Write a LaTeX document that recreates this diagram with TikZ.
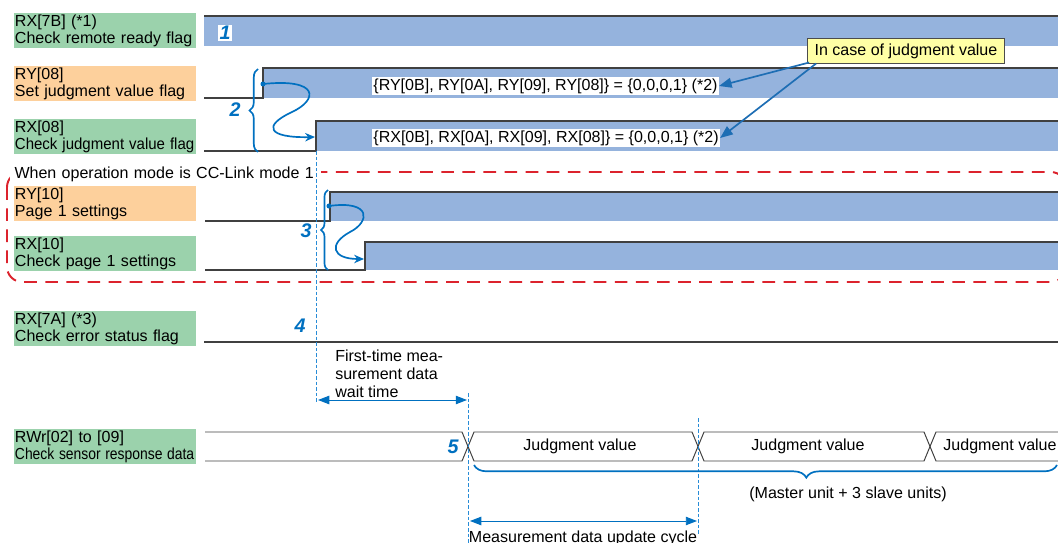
\documentclass[tikz,border=0pt]{standalone}
\usepackage{fontspec}
\setmainfont{Liberation Sans}
\usetikzlibrary{arrows.meta, positioning, decorations.pathreplacing, calc}
\definecolor{lblgreen}{RGB}{155,210,172}
\definecolor{lblorange}{RGB}{253,208,156}
\definecolor{sigblue}{RGB}{149,179,221}
\definecolor{markblue}{RGB}{0,112,192}
\definecolor{pointblue}{RGB}{30,110,180}
\definecolor{guideblue}{RGB}{40,140,215}
\definecolor{notefill}{RGB}{255,255,165}
\definecolor{framered}{RGB}{220,35,45}
\newcommand\fitline[1]{\resizebox{4.48cm}{\height}{#1}}
\begin{document}
\begin{tikzpicture}[x=0.025cm, y=-0.025cm,
    font=\fontsize{11.4}{12.4}\selectfont,
    lbl/.style={anchor=north west, text width=4.5cm, minimum height=0.875cm, align=left, inner xsep=0.5pt, inner ysep=0pt},
    sig/.style={fill=sigblue},
    lvl/.style={draw=black!75, line width=0.8pt},
    bus/.style={draw=black!75, line width=0.7pt},
    num/.style={font=\fontsize{14}{14}\selectfont\bfseries\itshape, text=markblue, inner sep=1pt},
    hint/.style={fill=white, inner sep=0.8pt, anchor=west},
    guide/.style={draw=guideblue, line width=0.6pt, dash pattern=on 2.5pt off 1.5pt},
    flow/.style={draw=markblue, line width=1.2pt, -{Stealth[length=7pt,width=6pt]}},
    grp/.style={draw=markblue, line width=1.2pt, decorate, decoration={brace, amplitude=6pt}},
    pointer/.style={draw=pointblue, line width=1.2pt, -{Triangle[length=9pt,width=7pt]}},
    span/.style={draw=markblue, line width=0.7pt, {Triangle[length=8pt,width=6pt]}-{Triangle[length=8pt,width=6pt]}},
    note/.style={draw=black!70, line width=0.5pt, fill=notefill, minimum width=4.925cm, minimum height=0.6cm, inner xsep=4pt, align=left},
    frame/.style={draw=framered, line width=1.4pt, dash pattern=on 9pt off 6pt, rounded corners=0.38cm}]
\useasboundingbox (0,0) rectangle (1058,543);
% Signal names
\node[lbl, fill=lblgreen] (rx7b) at (14,13) {RX[7B] (*1)\\Check remote ready flag};
\node[lbl, fill=lblorange] (ry08) at (14,66) {RY[08]\\Set judgment value flag};
\node[lbl, fill=lblgreen] (rx08) at (14,119) {RX[08]\\\fitline{Check judgment value flag}};
\node[lbl, fill=lblorange] (ry10) at (14,186) {RY[10]\\Page 1 settings};
\node[lbl, fill=lblgreen] (rx10) at (14,236) {RX[10]\\Check page 1 settings};
\node[lbl, fill=lblgreen] (rx7a) at (14,311) {RX[7A] (*3)\\Check error status flag};
\node[lbl, fill=lblgreen] (rwr) at (14,429) {RWr[02] to [09]\\\fitline{Check sensor response data}};
% CC-Link mode 1 group
\draw[frame] (7,172) rectangle (1066,282);
\node[hint, text width=7.55cm, inner xsep=3pt, inner ysep=2pt] (mode) at (10,174) {When operation mode is CC-Link mode 1};
% Waveforms
\fill[sig] (204,16) rectangle (1058,46);
\draw[lvl] (204,16) -- (1058,16);
\node[num, fill=white] (n1) at (225,33) {1};
\fill[sig] (263,68) rectangle (1058,98);
\draw[lvl] (204,98) -- (263,98) -- (263,68) -- (1058,68);
\fill[sig] (316,121) rectangle (1058,151);
\draw[lvl] (204,151) -- (316,151) -- (316,121) -- (1058,121);
\fill[sig] (330,192) rectangle (1058,221);
\draw[lvl] (205,221) -- (330,221) -- (330,192) -- (1058,192);
\fill[sig] (365,242) rectangle (1058,270);
\draw[lvl] (205,270) -- (365,270) -- (365,242) -- (1058,242);
\draw[lvl] (204,342) -- (1058,342);
% Data bus
\draw[bus] (205,432) -- (462,432) -- (474,461) -- (692,461) -- (704,432) -- (924,432) -- (936,461) -- (1058,461);
\draw[bus] (205,461) -- (462,461) -- (474,432) -- (692,432) -- (704,461) -- (924,461) -- (936,432) -- (1058,432);
\node (jv1) at (580,446) {Judgment value};
\node (jv2) at (808,446) {Judgment value};
\node (jv3) at (1000,446) {Judgment value};
% Judgment value bits
\node[hint] (rytxt) at (372,86) {\{RY[0B], RY[0A], RY[09], RY[08]\} = \{0,0,0,1\} (*2)};
\node[hint] (rxtxt) at (372,138) {\{RX[0B], RX[0A], RX[09], RX[08]\} = \{0,0,0,1\} (*2)};
\node[note] (note) at (906,51) {In case of judgment value};
\draw[pointer] ($(note.south west)+(2,-1)$) -- (rytxt.east);
\draw[pointer] ($(note.south west)+(9,0)$) -- (rxtxt.east);
% Handshakes
\draw[grp] (258,152) -- (258,69);
\node[num] (n2) at (235,110) {2};
\coordinate (s2) at (263,84);
\coordinate (e2) at (315,137);
\fill[markblue] (s2) circle (1.8pt);
\draw[flow] (s2) .. controls (320,78) and (318,100) .. (292,112) .. controls (262,126) and (268,138) .. (e2);
\draw[grp, decoration={brace, amplitude=5pt}] (328,270) -- (328,190);
\node[num] (n3) at (306,231) {3};
\coordinate (s3) at (329,206);
\coordinate (e3) at (364,259);
\fill[markblue] (s3) circle (1.8pt);
\draw[flow] (s3) .. controls (372,200) and (370,222) .. (350,232) .. controls (328,244) and (332,259) .. (e3);
\node[num] (n4) at (300,326) {4};
\node[num] (n5) at (453,447) {5};
% Timing guides
\draw[guide] (316,151) -- (316,402);
\draw[guide] (468,393) -- (468,543);
\draw[guide] (698,418) -- (698,536);
\coordinate (w0) at (318,400);
\coordinate (w1) at (467,400);
\draw[span] (w0) -- (w1);
\node[anchor=north west, inner sep=0pt, align=left, font=\fontsize{11.4}{12.8}\selectfont] (wait) at (335,349.5) {First-time mea-\\surement data\\wait time};
\coordinate (c0) at (470,521);
\coordinate (c1) at (697,521);
\draw[span] (c0) -- (c1);
\node[anchor=base, inner sep=0pt] (cycle) at (583,542) {Measurement data update cycle};
\draw[grp, decoration={brace, amplitude=9pt, aspect=0.43}] (1057,465) -- (474,465);
\node (units) at (848,494) {(Master unit + 3 slave units)};
\end{tikzpicture}
\end{document}
